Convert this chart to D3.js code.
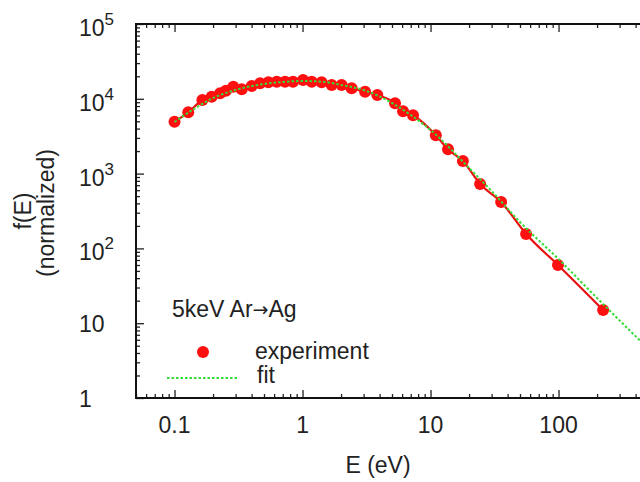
<!DOCTYPE html>
<html>
<head>
<meta charset="utf-8">
<script src="https://cdn.jsdelivr.net/npm/d3@7"></script>
<style>
  body { margin: 0; background: #fff; }
  text { font-family: "Liberation Sans", Arial, Helvetica, sans-serif; fill: #222; }
</style>
</head>
<body>
<div id="chart"></div>
<script>
//// data
var expE = [0.1, 0.128, 0.165, 0.195, 0.227, 0.252, 0.288, 0.335, 0.401, 0.466, 0.541, 0.629, 0.73, 0.843,
            1.01, 1.18, 1.41, 1.69, 2.02, 2.42, 3.08, 3.84, 5.28, 6.1, 7.3, 11.0, 13.7, 17.9, 24.4, 35.6,
            55.8, 99, 223];
var expF = [4940, 6600, 9640, 10670, 11850, 12830, 14500, 13400, 14830, 16110, 16630, 16940, 16940, 16940,
            17830, 16940, 16630, 15280, 15280, 13810, 12440, 11250, 8730, 6830, 6030, 3260, 2120, 1470, 726, 417,
            156, 60, 15];

var fitE = [0.1, 0.15, 0.2, 0.3, 0.5, 0.7, 1, 1.5, 2, 3, 5, 7, 10, 20, 30, 50, 100, 200, 500];
var fitF = [4900, 7760, 10250, 13120, 15780, 16780, 17300, 16780, 15300, 13120, 8790, 6070, 3830, 1190,
            585, 225, 72, 21.7, 4.6];

var xTicks = [0.1, 1, 10, 100];
var xTickLabels = ["0.1", "1", "10", "100"];
var yTicks = [1, 10, 100, 1000, 10000, 100000];
var yLabelBase = ["1", "10", "10", "10", "10", "10"];
var yLabelExp = ["", "", "2", "3", "4", "5"];

var seriesNames = ["experiment", "fit"];

//// chart
var W = 640, H = 482;
var margin = {top: 24, right: -8, bottom: 84, left: 136};

var svg = d3.select("#chart")
  .append("svg")
    .attr("width", W)
    .attr("height", H);

var xScale = d3.scaleLog()
  .domain([0.05, 500])
  .range([margin.left, W - margin.right]);

var yScale = d3.scaleLog()
  .domain([1, 100000])
  .range([H - margin.bottom, margin.top]);

var x0 = xScale.range()[0], x1 = xScale.range()[1];
var y0 = yScale.range()[0], y1 = yScale.range()[1];

svg.append("clipPath").attr("id", "plot")
  .append("rect")
    .attr("x", x0).attr("y", y1)
    .attr("width", x1 - x0).attr("height", y0 - y1);

//// ticks (inward, minor + major)
var xMinor = xScale.ticks().filter(d => xTicks.indexOf(d) < 0);
var yMinor = yScale.ticks().filter(d => yTicks.indexOf(+d.toPrecision(3)) < 0);

function tickAxis(axis, vals, size, tr) {
  var g = svg.append("g")
    .attr("transform", tr)
    .call(axis.tickValues(vals).tickSize(size).tickFormat(""));
  g.select(".domain").remove();
  g.selectAll("line").attr("stroke", "#222").attr("stroke-width", 1.3);
}
tickAxis(d3.axisBottom(xScale), xMinor, -4, "translate(0," + y0 + ")");
tickAxis(d3.axisBottom(xScale), xTicks, -8, "translate(0," + y0 + ")");
tickAxis(d3.axisTop(xScale), xMinor, -4, "translate(0," + y1 + ")");
tickAxis(d3.axisTop(xScale), xTicks, -8, "translate(0," + y1 + ")");
tickAxis(d3.axisLeft(yScale), yMinor, -4, "translate(" + x0 + ",0)");
tickAxis(d3.axisLeft(yScale), yTicks, -8, "translate(" + x0 + ",0)");

//// frame
svg.append("path")
  .attr("d", "M" + x1 + "," + y1 + "H" + x0 + "V" + y0 + "H" + x1)
  .attr("fill", "none")
  .attr("stroke", "#111")
  .attr("stroke-width", 2);

//// tick labels
svg.selectAll(".xlab")
  .data(xTicks)
  .enter().append("text")
    .attr("class", "xlab")
    .attr("x", d => xScale(d))
    .attr("y", y0 + 35)
    .attr("text-anchor", "middle")
    .style("font-size", "23px")
    .text((d, i) => xTickLabels[i]);

var ylab = svg.selectAll(".ylab")
  .data(yTicks)
  .enter().append("text")
    .attr("class", "ylab")
    .attr("x", 79)
    .attr("y", (d, i) => yScale(d) + (yLabelExp[i] ? 12 : 8.5))
    .style("font-size", "23px");
ylab.append("tspan").text((d, i) => yLabelBase[i]);
ylab.append("tspan")
  .attr("dy", -11)
  .style("font-size", "17px")
  .text((d, i) => yLabelExp[i]);

//// axis titles
svg.append("text")
  .attr("x", (x0 + 616) / 2 + 2)
  .attr("y", 473)
  .attr("text-anchor", "middle")
  .style("font-size", "23px")
  .text("E (eV)");

svg.append("text")
  .attr("transform", "translate(31,211) rotate(-90)")
  .attr("text-anchor", "middle")
  .style("font-size", "23px")
  .text("f(E)");
svg.append("text")
  .attr("transform", "translate(54,213) rotate(-90)")
  .attr("text-anchor", "middle")
  .style("font-size", "23px")
  .text("(normalized)");

//// lines
var plot = svg.append("g").attr("clip-path", "url(#plot)");

var expLine = d3.line()
  .x((d, i) => xScale(expE[i]))
  .y((d, i) => yScale(expF[i]))
  .curve(d3.curveMonotoneX);

var fitLine = d3.line()
  .x((d, i) => xScale(fitE[i]))
  .y((d, i) => yScale(fitF[i]))
  .curve(d3.curveMonotoneX);

plot.append("path")
  .datum(expE)
  .attr("d", expLine)
  .attr("fill", "none")
  .attr("stroke", "#e81010")
  .attr("stroke-width", 2.2);

plot.selectAll(".dots")
  .data(expE)
  .enter().append("circle")
    .attr("class", "dots")
    .attr("cx", d => xScale(d))
    .attr("cy", (d, i) => yScale(expF[i]))
    .attr("r", 6)
    .attr("fill", "#ff1010");

plot.append("path")
  .datum(fitE)
  .attr("d", fitLine)
  .attr("fill", "none")
  .attr("stroke", "#33dd33")
  .attr("stroke-width", 2)
  .attr("stroke-dasharray", "2.5,2");

//// legend
var title = svg.append("text")
  .attr("x", 172)
  .attr("y", 317)
  .style("font-size", "23px");
title.append("tspan").text("5keV Ar");
title.append("tspan")
  .style("font-family", "'DejaVu Sans'")
  .style("font-size", "19px")
  .attr("dy", -1)
  .text("\u2192");
title.append("tspan").attr("dy", 1).text("Ag");

svg.append("circle")
  .attr("cx", 203)
  .attr("cy", 352)
  .attr("r", 6)
  .attr("fill", "#ff1010");
svg.append("text")
  .attr("x", 255)
  .attr("y", 359)
  .style("font-size", "23px")
  .text(seriesNames[0]);

svg.append("line")
  .attr("x1", 167).attr("x2", 238)
  .attr("y1", 378).attr("y2", 378)
  .attr("stroke", "#33dd33")
  .attr("stroke-width", 2)
  .attr("stroke-dasharray", "2.5,2");
svg.append("text")
  .attr("x", 257)
  .attr("y", 383)
  .style("font-size", "23px")
  .text(seriesNames[1]);
</script>
</body>
</html>
